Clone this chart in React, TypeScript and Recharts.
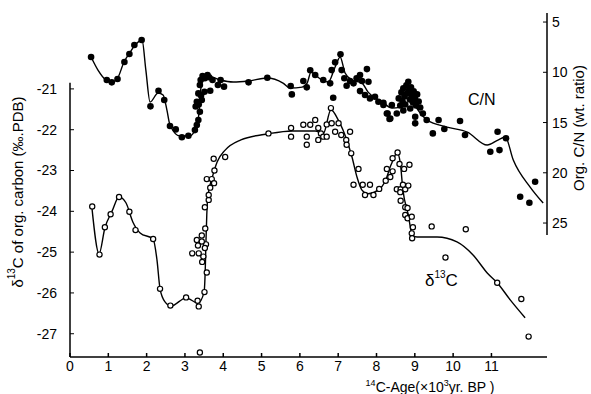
import React from "react";
import {
  ComposedChart,
  Line,
  Scatter,
  XAxis,
  YAxis,
  ReferenceLine,
} from "recharts";

// age in 10^3 yr BP
const cnPoints: [number, number][] = [
  [0.55, 8.48], [0.96, 10.77], [1.09, 11.0], [1.24, 10.67], [1.42, 8.98], [1.55, 8.18],
  [1.68, 7.29], [1.87, 6.79], [2.1, 13.39], [2.31, 11.83], [2.46, 12.76], [2.61, 15.35],
  [2.76, 15.68], [2.92, 16.47], [3.09, 16.31], [3.26, 15.75], [3.31, 15.25], [3.35, 14.75],
  [3.39, 13.93], [3.31, 12.93], [3.44, 12.76], [3.35, 12.1], [3.51, 11.93], [3.39, 11.27],
  [3.41, 10.77], [3.46, 10.37], [3.59, 10.27], [3.66, 11.83], [3.72, 10.77], [3.86, 11.27],
  [3.93, 10.77], [4.02, 11.43], [3.28, 13.4], [3.36, 13.2], [3.42, 12.3], [3.52, 10.6],
  [3.63, 10.5], [4.66, 11.0], [5.15, 10.54], [5.76, 11.37], [5.79, 12.2], [6.09, 10.87],
  [6.18, 11.5], [6.27, 9.8], [6.4, 10.27], [6.61, 10.77], [6.79, 11.1], [6.87, 12.53],
  [6.83, 9.78], [6.92, 9.01], [7.06, 8.2], [7.09, 9.78], [7.16, 10.6], [7.22, 11.34],
  [7.31, 10.87], [7.4, 11.1], [7.48, 10.6], [7.57, 10.27], [7.62, 10.87], [7.75, 9.68],
  [7.79, 10.94], [7.57, 11.87], [7.7, 12.26], [7.83, 12.6], [7.96, 12.43], [8.05, 12.93],
  [8.18, 13.26], [8.29, 14.1], [8.36, 14.6], [8.4, 13.26], [8.18, 13.03], [8.27, 14.1],
  [8.34, 14.65], [8.53, 14.1], [8.58, 12.6], [8.62, 13.3], [8.65, 12.0], [8.68, 12.9],
  [8.7, 11.6], [8.73, 12.4], [8.75, 13.2], [8.78, 11.3], [8.8, 12.1], [8.83, 10.94],
  [8.85, 11.8], [8.87, 12.7], [8.9, 11.5], [8.92, 12.3], [8.95, 13.0], [8.97, 11.9],
  [9.0, 12.6], [9.03, 13.3], [9.06, 12.2], [9.1, 12.9], [9.14, 13.5], [8.88, 13.6],
  [8.7, 13.8], [9.01, 14.42], [9.01, 15.08], [9.21, 14.1], [9.31, 14.75], [9.47, 16.08],
  [9.62, 14.75], [9.77, 15.65], [10.18, 14.85], [10.31, 16.24], [10.97, 17.9], [11.16, 15.91],
  [11.21, 17.74], [11.38, 16.57], [11.75, 22.38], [11.99, 22.98], [12.14, 20.89],
];

const cnCurve: [number, number][] = [
  [0.55, 8.48], [0.73, 9.78], [0.94, 10.77], [1.1, 10.97], [1.23, 10.67], [1.41, 8.98],
  [1.57, 7.99], [1.7, 7.29], [1.88, 6.79], [1.98, 9.78], [2.09, 12.96], [2.3, 12.06],
  [2.43, 12.26], [2.53, 13.76], [2.61, 15.25], [2.87, 16.34], [3.13, 16.34], [3.29, 15.45],
  [3.37, 13.96], [3.39, 12.46], [3.47, 10.77], [3.6, 10.37], [3.92, 10.77], [4.26, 10.97],
  [4.65, 10.87], [5.14, 10.57], [5.56, 11.07], [5.74, 11.57], [6.06, 11.47], [6.19, 11.07],
  [6.29, 9.98], [6.4, 10.27], [6.58, 10.77], [6.74, 10.97], [6.92, 9.48], [7.05, 8.48],
  [7.18, 10.07], [7.36, 10.77], [7.62, 11.07], [7.78, 11.97], [8.15, 12.96], [8.41, 13.56],
  [8.62, 13.46], [8.8, 12.06], [8.96, 13.06], [9.14, 14.05], [9.32, 14.75], [9.84, 15.45],
  [10.37, 15.95], [10.89, 17.24], [11.17, 16.74], [11.36, 16.44], [11.57, 18.73],
  [12.01, 21.42], [12.35, 23.01],
];

const d13Points: [number, number][] = [
  [0.58, -23.88], [0.77, -25.06], [0.91, -24.39], [1.06, -24.07], [1.28, -23.65], [1.55, -24.01],
  [1.71, -24.46], [2.17, -24.68], [2.35, -25.9], [2.62, -26.31], [3.03, -26.11], [3.33, -26.19],
  [3.36, -26.33], [3.51, -25.98], [3.57, -25.5], [3.45, -25.24], [3.48, -25.11], [3.19, -25.03],
  [3.36, -25.03], [3.31, -24.7], [3.44, -24.59], [3.34, -24.84], [3.55, -24.81], [3.52, -24.9],
  [3.44, -24.74], [3.53, -24.42], [3.52, -23.9], [3.62, -23.72], [3.62, -23.6], [3.66, -23.42],
  [3.57, -23.21], [3.7, -23.21], [3.76, -23.31], [3.77, -23.0], [3.75, -22.71], [4.05, -22.67],
  [3.39, -27.46], [5.18, -22.09], [5.77, -21.96], [5.77, -22.17], [6.09, -21.88], [6.27, -21.88],
  [6.4, -21.76], [6.18, -22.17], [6.18, -22.37], [6.48, -21.96], [6.48, -22.25], [6.55, -22.09],
  [6.61, -22.17], [6.7, -22.17], [6.7, -21.87], [6.81, -21.47], [6.83, -21.84], [6.92, -22.05],
  [7.01, -21.84], [7.08, -22.13], [7.21, -22.25], [7.22, -22.37], [7.31, -22.05], [7.34, -22.58],
  [7.53, -22.96], [7.4, -23.35], [7.64, -23.35], [7.83, -23.35], [7.7, -23.6], [7.92, -23.6],
  [8.07, -23.45], [8.24, -23.25], [8.27, -22.96], [8.36, -23.16], [8.42, -23.02], [8.42, -22.7],
  [8.55, -22.56], [8.6, -22.84], [8.72, -22.96], [8.86, -22.86], [8.53, -23.46], [8.63, -23.46],
  [8.75, -23.46], [8.83, -23.37], [8.69, -23.35], [8.62, -23.53], [8.63, -23.74], [8.75, -23.9],
  [8.81, -23.92], [8.75, -24.09], [8.81, -24.17], [8.92, -24.13], [8.95, -24.39], [8.92, -24.54],
  [8.93, -24.66], [9.44, -24.37], [10.33, -24.44], [9.8, -25.13], [11.15, -25.75], [11.78, -26.15],
  [11.97, -27.07],
];

const d13Curve: [number, number][] = [
  [0.57, -23.89], [0.76, -25.04], [0.91, -24.41], [1.1, -23.99], [1.28, -23.65], [1.46, -23.79],
  [1.64, -24.26], [1.83, -24.53], [2.17, -24.68], [2.27, -25.19], [2.35, -25.9], [2.48, -26.22],
  [2.64, -26.32], [3.03, -26.12], [3.34, -26.25], [3.5, -25.98], [3.53, -25.44], [3.55, -24.7],
  [3.57, -24.09], [3.6, -23.62], [3.71, -23.18], [3.84, -22.79], [4.05, -22.5], [4.46, -22.25],
  [5.17, -22.1], [5.8, -22.03], [6.4, -22.03], [6.61, -22.1], [6.81, -21.51], [7.0, -21.76],
  [7.23, -22.27], [7.36, -22.67], [7.49, -23.16], [7.62, -23.48], [7.78, -23.57], [8.04, -23.48],
  [8.22, -23.28], [8.38, -22.86], [8.54, -22.57], [8.62, -22.81], [8.69, -23.48], [8.83, -24.09],
  [8.93, -24.58], [9.06, -24.63], [9.58, -24.63], [10.1, -24.75], [10.52, -25.07], [10.89, -25.51],
  [11.15, -25.75], [11.49, -26.17], [11.88, -26.61],
];

const ageTicks = [0, 1, 2, 3, 4, 5, 6, 7, 8, 9, 10, 11];
const d13Ticks = [-27, -26, -25, -24, -23, -22, -21];
const cnTicks = [5, 10, 15, 20, 25];

const toRows = (arr: [number, number][]) => arr.map(([x, y]) => ({ x, y }));

const font = "'Liberation Sans', Arial, sans-serif";

const Dot = (props: any) => (
  <circle cx={props.cx} cy={props.cy} r={3.3} fill="#000" />
);
const Ring = (props: any) => (
  <circle cx={props.cx} cy={props.cy} r={2.6} fill="#fff" stroke="#000" strokeWidth={1.2} />
);

export default function App() {
  const tickStyle = { fill: "#000", fontSize: 14, fontFamily: font };
  return (
    <div style={{ position: "absolute", left: 0, top: 0, width: 591, height: 394, background: "#fff" }}>
      <ComposedChart
        width={591}
        height={394}
        margin={{ top: 13, right: 0, bottom: 7, left: 20 }}
      >
        <XAxis
          type="number"
          dataKey="x"
          domain={[0, 12.45]}
          allowDataOverflow
          ticks={ageTicks}
          interval={0}
          height={30}
          tickSize={-4}
          tickMargin={8}
          tick={tickStyle}
          stroke="#000"
          strokeWidth={1.5}
        />
        <YAxis
          yAxisId="d13"
          dataKey="y"
          type="number"
          orientation="left"
          domain={[-27.57, -19.14]}
          allowDataOverflow
          ticks={d13Ticks}
          interval={0}
          width={50}
          tickSize={-4}
          tickMargin={17}
          axisLine={false}
          tick={tickStyle}
          stroke="#000"
        />
        <YAxis
          yAxisId="cn"
          dataKey="y"
          type="number"
          orientation="right"
          reversed
          domain={[4.1, 38.33]}
          allowDataOverflow
          ticks={cnTicks}
          interval={0}
          width={44}
          tickSize={-4}
          tickMargin={9}
          axisLine={false}
          tick={{ ...tickStyle, textAnchor: "start" }}
          stroke="#000"
        />
        <ReferenceLine
          yAxisId="d13"
          segment={[{ x: 0, y: -27.57 }, { x: 0, y: -20.85 }]}
          stroke="#000"
          strokeWidth={1.5}
          ifOverflow="visible"
        />
        <ReferenceLine
          yAxisId="cn"
          segment={[{ x: 12.45, y: 4.1 }, { x: 12.45, y: 26.2 }]}
          stroke="#000"
          strokeWidth={1.5}
          ifOverflow="visible"
        />
        <Line
          yAxisId="cn"
          data={toRows(cnCurve)}
          dataKey="y"
          type="monotone"
          stroke="#000"
          strokeWidth={1.4}
          dot={false}
          isAnimationActive={false}
        />
        <Line
          yAxisId="d13"
          data={toRows(d13Curve)}
          dataKey="y"
          type="monotone"
          stroke="#000"
          strokeWidth={1.4}
          dot={false}
          isAnimationActive={false}
        />
        <Scatter
          yAxisId="cn"
          data={toRows(cnPoints)}
          shape={Dot}
          isAnimationActive={false}
        />
        <Scatter
          yAxisId="d13"
          data={toRows(d13Points)}
          shape={Ring}
          isAnimationActive={false}
        />
      </ComposedChart>
      <svg
        width={591}
        height={394}
        style={{ position: "absolute", left: 0, top: 0, pointerEvents: "none" }}
        fontFamily={font}
        fill="#000"
      >
        <text x={17} y={192} fontSize={15} textAnchor="middle" dominantBaseline="central" transform="rotate(-90 17 192)">
          δ<tspan fontSize={10} dy={-6}>13</tspan><tspan dy={6}>C of org. carbon (‰.PDB)</tspan>
        </text>
        <text x={578} y={128} fontSize={15} textAnchor="middle" dominantBaseline="central" transform="rotate(-90 578 128)">
          Org. C/N (wt. ratio)
        </text>
        <text x={430} y={392} fontSize={14} textAnchor="middle">
          <tspan fontSize={9} dy={-6}>14</tspan><tspan dy={6}>C-Age(×10</tspan><tspan fontSize={9} dy={-6}>3</tspan><tspan dy={6}>yr. BP )</tspan>
        </text>
        <text x={468} y={105} fontSize={16}>C/N</text>
        <text x={425} y={286} fontSize={17}>
          δ<tspan fontSize={10} dy={-8}>13</tspan><tspan dy={8}>C</tspan>
        </text>
      </svg>
    </div>
  );
}
